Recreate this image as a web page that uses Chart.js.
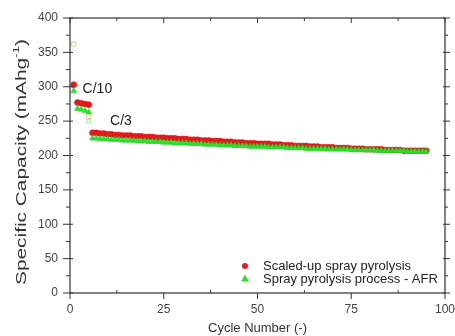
<!DOCTYPE html>
<html>
<head>
<meta charset="utf-8">
<script src="https://cdn.jsdelivr.net/npm/chart.js@4"></script>
<style>
  body { margin: 0; background: #fff; }
  canvas { display: block; }
</style>
</head>
<body>
<canvas id="capChart" width="455" height="336"></canvas>
<script>
// cycle numbers 1..95
const cycles = [];
for (let i = 1; i <= 95; i++) cycles.push(i);

const scaledUp = [
  303, 277, 276, 275, 274,
  233, 233, 232, 232, 231, 231, 230, 230, 229, 229, 229, 228, 228, 228, 227,
  227, 227, 226, 226, 226, 225, 225, 225, 224, 224, 224, 223, 223, 223, 222,
  222, 222, 221, 221, 221, 220, 220, 220, 219, 219, 219, 218, 218, 218, 217,
  217, 217, 217, 216, 216, 216, 215, 215, 215, 214, 214, 214, 214, 213, 213,
  213, 212, 212, 212, 212, 211, 211, 211, 211, 210, 210, 210, 210, 209, 209,
  209, 209, 209, 208, 208, 208, 208, 208, 207, 207, 207, 207, 207, 207, 207
];

const afrProcess = [
  294, 268, 267, 265, 263,
  225, 225, 224, 224, 224, 223, 223, 223, 222, 222, 222, 222, 221, 221, 221,
  220, 220, 220, 220, 219, 219, 219, 218, 218, 218, 218, 217, 217, 217, 217,
  216, 216, 216, 216, 215, 215, 215, 215, 214, 214, 214, 214, 213, 213, 213,
  213, 213, 212, 212, 212, 212, 212, 211, 211, 211, 211, 211, 210, 210, 210,
  210, 210, 210, 209, 209, 209, 209, 209, 209, 208, 208, 208, 208, 208, 208,
  208, 207, 207, 207, 207, 207, 207, 207, 207, 206, 206, 206, 206, 206, 206
];

// faint open markers (first-cycle charge points)
const openCycles = [1, 5];
const openValues = [362, 256];
const openTriCycles = [5];
const openTriValues = [250];

const xTicks = [0, 25, 50, 75, 100];
const yTicks = [0, 50, 100, 150, 200, 250, 300, 350, 400];

const rateLabels = [
  { text: 'C/10', x: 7.3, y: 297 },
  { text: 'C/3', x: 13.6, y: 250 }
];

const legendItems = [
  { text: 'Scaled-up spray pyrolysis', color: '#e51a1a', shape: 'circle' },
  { text: 'Spray pyrolysis process - AFR', color: '#2ee02e', shape: 'triangle' }
];

const FONT = '"Liberation Sans", Arial, sans-serif';

const toPoints = (xs, ys) => xs.map((x, i) => ({ x: x, y: ys[i] }));

const frameAndTicks = {
  id: 'frameAndTicks',
  afterDraw(chart) {
    const ctx = chart.ctx;
    const a = chart.chartArea;
    const xs = chart.scales.x;
    const ys = chart.scales.y;
    ctx.save();
    ctx.strokeStyle = '#333';
    ctx.lineWidth = 1.2;
    ctx.strokeRect(a.left, a.top, a.right - a.left, a.bottom - a.top);
    ctx.lineWidth = 1;
    // x ticks: major outward, minor inward
    for (let v = 0; v <= 100; v += 12.5) {
      const px = xs.getPixelForValue(v);
      const major = v % 25 === 0;
      ctx.beginPath();
      if (major) {
        ctx.moveTo(px, a.bottom); ctx.lineTo(px, a.bottom + 6);
        ctx.moveTo(px, a.top); ctx.lineTo(px, a.top + 5);
      } else {
        ctx.moveTo(px, a.bottom); ctx.lineTo(px, a.bottom - 3);
        ctx.moveTo(px, a.top); ctx.lineTo(px, a.top + 3);
      }
      ctx.stroke();
    }
    // y ticks
    for (let v = 0; v <= 400; v += 25) {
      const py = ys.getPixelForValue(v);
      const major = v % 50 === 0;
      ctx.beginPath();
      if (major) {
        ctx.moveTo(a.left - 7, py); ctx.lineTo(a.left + 3, py);
        ctx.moveTo(a.right - 2, py); ctx.lineTo(a.right + 5, py);
      } else {
        ctx.moveTo(a.left - 4, py); ctx.lineTo(a.left, py);
        ctx.moveTo(a.right, py); ctx.lineTo(a.right + 3, py);
      }
      ctx.stroke();
    }
    // rate labels
    ctx.fillStyle = '#222';
    ctx.font = '14px ' + FONT;
    ctx.textAlign = 'center';
    ctx.textBaseline = 'middle';
    rateLabels.forEach(l => {
      ctx.fillText(l.text, xs.getPixelForValue(l.x), ys.getPixelForValue(l.y));
    });
    // legend inside plot
    ctx.font = '13px ' + FONT;
    ctx.textAlign = 'left';
    legendItems.forEach((item, i) => {
      const cy = 266 + i * 12.5;
      const mx = 245;
      ctx.fillStyle = item.color;
      ctx.beginPath();
      if (item.shape === 'circle') {
        ctx.arc(mx, cy, 3, 0, Math.PI * 2);
      } else {
        ctx.moveTo(mx, cy - 4); ctx.lineTo(mx + 4, cy + 3); ctx.lineTo(mx - 4, cy + 3);
        ctx.closePath();
      }
      ctx.fill();
      ctx.fillStyle = '#222';
      ctx.fillText(item.text, 263, cy + 0.5);
    });
    // y axis title, stretched along its length as in the original
    ctx.translate(22, 162);
    ctx.rotate(-Math.PI / 2);
    ctx.fillStyle = '#333';
    const main = 'Specific Capacity (mAhg';
    const sup = '-1';
    const tail = ')';
    ctx.font = '14px ' + FONT;
    const wMain = ctx.measureText(main).width;
    const wTail = ctx.measureText(tail).width;
    ctx.font = '9px ' + FONT;
    const wSup = ctx.measureText(sup).width;
    const total = wMain + wSup + wTail;
    const stretch = 246 / total;
    ctx.scale(stretch, 1);
    let x0 = -total / 2;
    ctx.textAlign = 'left';
    ctx.font = '14px ' + FONT;
    ctx.fillText(main, x0, 0);
    ctx.font = '9px ' + FONT;
    ctx.fillText(sup, x0 + wMain, -5);
    ctx.font = '14px ' + FONT;
    ctx.fillText(tail, x0 + wMain + wSup, 0);
    ctx.restore();
  }
};

const ctx = document.getElementById('capChart').getContext('2d');
new Chart(ctx, {
  type: 'scatter',
  data: {
    datasets: [
      {
        label: 'Scaled-up spray pyrolysis',
        data: toPoints(cycles, scaledUp),
        pointStyle: 'circle',
        pointRadius: 3,
        backgroundColor: '#e51a1a',
        borderColor: '#d01010',
        borderWidth: 0.5,
        order: 2
      },
      {
        label: 'Spray pyrolysis process - AFR',
        data: toPoints(cycles, afrProcess),
        pointStyle: 'triangle',
        pointRadius: 3.5,
        backgroundColor: '#2ee02e',
        borderColor: '#22d022',
        borderWidth: 0.5,
        order: 1
      },
      {
        label: 'open',
        data: toPoints(openCycles, openValues),
        pointStyle: 'rect',
        pointRadius: 3,
        backgroundColor: 'rgba(255,255,255,0)',
        borderColor: '#c4d47a',
        borderWidth: 1,
        order: 0
      },
      {
        label: 'open triangle',
        data: toPoints(openTriCycles, openTriValues),
        pointStyle: 'triangle',
        pointRadius: 3,
        backgroundColor: 'rgba(255,255,255,0)',
        borderColor: '#a8e8a8',
        borderWidth: 1,
        order: 0
      }
    ]
  },
  options: {
    responsive: false,
    animation: false,
    layout: { autoPadding: false, padding: { top: 18, right: 10, left: 0, bottom: 0 } },
    plugins: {
      legend: { display: false },
      tooltip: { enabled: false }
    },
    scales: {
      x: {
        type: 'linear',
        min: 0,
        max: 100,
        afterBuildTicks: s => { s.ticks = xTicks.map(v => ({ value: v })); },
        afterFit: s => { s.height = 43; s.paddingLeft = 0; s.paddingRight = 0; },
        grid: { display: false, drawTicks: false },
        border: { display: false },
        ticks: {
          color: '#444',
          padding: 9,
          font: { family: FONT, size: 12 }
        },
        title: {
          display: true,
          text: 'Cycle Number (-)',
          color: '#333',
          padding: { top: 0, bottom: 0 },
          font: { family: FONT, size: 13 }
        }
      },
      y: {
        type: 'linear',
        min: 0,
        max: 400,
        afterBuildTicks: s => { s.ticks = yTicks.map(v => ({ value: v })); },
        afterFit: s => { s.width = 70; s.paddingTop = 0; s.paddingBottom = 0; },
        grid: { display: false, drawTicks: false },
        border: { display: false },
        ticks: {
          color: '#444',
          padding: 12,
          font: { family: FONT, size: 12 }
        },
        title: { display: false }
      }
    }
  },
  plugins: [frameAndTicks]
});
</script>
</body>
</html>
